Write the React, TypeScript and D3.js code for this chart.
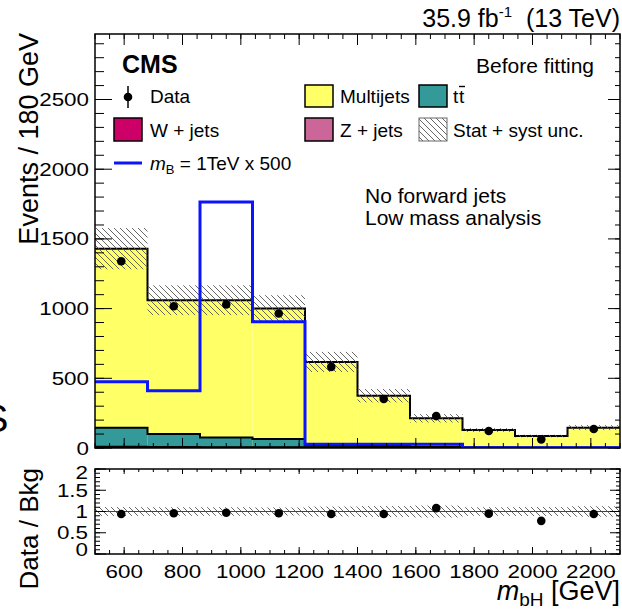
import React from "react";
import * as d3 from "d3";

// ---------- data ----------
const binEdges = [500, 680, 860, 1040, 1220, 1400, 1580, 1760, 1940, 2120, 2300];
const multijets = [1285, 960, 984, 937, 598, 361, 204, 123, 82, 142];
const ttbar = [136, 93, 70, 58, 15, 11, 6.5, 4.5, 2.5, 2.5];
const wjets = [6, 5, 4, 4, 3, 2, 1.5, 1, 1, 1];
const zjets = [3, 2, 2, 2, 1.5, 1, 1, 0.5, 0.5, 0.5];
const bkgUnc = [148, 107, 107, 95, 72, 48, 30, 13, 9, 18];
const dataValues = [1340, 1017, 1029, 965, 582, 351, 229, 122, 62, 136];
const signalValues = [475, 410, 1764, 905, 27, 27, 27, 1, 1, 1];
const ratioValues = [0.94, 0.96, 0.97, 0.96, 0.94, 0.94, 1.08, 0.95, 0.78, 0.94];
const xTickLabels = [600, 800, 1000, 1200, 1400, 1600, 1800, 2000, 2200];
const yTickLabels = [0, 500, 1000, 1500, 2000, 2500];
const ratioTickLabels = [0, 0.5, 1, 1.5, 2];

const FONT = "'Liberation Sans', Arial, Helvetica, sans-serif";

const W = 622;
const H = 614;
const L = 95;
const R = 620;
const mainTop = 34;
const mainBot = 448;
const ratTop = 469;
const ratBot = 554;

const COLORS = {
  multijets: "#ffff66",
  tt: "#339999",
  w: "#cc0066",
  z: "#cc6699",
  signal: "#0a14ff",
};

function Ticks({ scale, values, orient, pos, len, stroke = "#000" }) {
  return (
    <g stroke={stroke} strokeWidth={1}>
      {values.map((v, i) => {
        const p = scale(v);
        if (orient === "bottom") return <line key={i} x1={p} x2={p} y1={pos} y2={pos - len} />;
        if (orient === "top") return <line key={i} x1={p} x2={p} y1={pos} y2={pos + len} />;
        if (orient === "left") return <line key={i} y1={p} y2={p} x1={pos} x2={pos + len} />;
        return <line key={i} y1={p} y2={p} x1={pos} x2={pos - len} />;
      })}
    </g>
  );
}

export default function App() {
  const x = d3.scaleLinear().domain([500, 2300]).range([L, R]);
  const y = d3.scaleLinear().domain([0, 2970]).range([mainBot, mainTop]);
  const yr = d3.scaleLinear().domain([0, 2]).range([ratBot, ratTop]);

  const nb = multijets.length;
  const cumZ = zjets.map((v) => v);
  const cumW = zjets.map((v, i) => v + wjets[i]);
  const cumT = cumW.map((v, i) => v + ttbar[i]);
  const total = cumT.map((v, i) => v + multijets[i]);

  const layers = [
    { top: total, fill: COLORS.multijets },
    { top: cumT, fill: COLORS.tt },
    { top: cumW, fill: COLORS.w },
    { top: cumZ, fill: COLORS.z },
  ];

  const stepLine = (vals, ys) => {
    const pts = vals.map((v, i) => [x(binEdges[i]), ys(v)]);
    pts.push([x(binEdges[nb]), ys(vals[nb - 1])]);
    return d3.line().curve(d3.curveStepAfter)(pts);
  };

  const mid = (i) => (binEdges[i] + binEdges[i + 1]) / 2;

  const xMinor = d3.range(500, 2301, 50);
  const xMajor = d3.range(600, 2201, 200);
  const yMinor = d3.range(0, 2971, 100);
  const yMajor = d3.range(0, 2971, 500);
  const rMinor = d3.range(0, 2.001, 0.1);
  const rMajor = [0, 0.5, 1, 1.5, 2];

  const tickLabel = (txt, tx, ty, anchor, key) => (
    <text
      key={key}
      transform={`translate(${tx},${ty}) scale(1.28,1)`}
      textAnchor={anchor}
      fontSize={17.5}
      fontFamily={FONT}
      fill="#000"
    >
      {txt}
    </text>
  );

  return (
    <svg
      width={W}
      height={H}
      style={{ position: "absolute", left: 0, top: 0, background: "#fff" }}
      fontFamily={FONT}
    >
      <defs>
        <pattern id="hatch" patternUnits="userSpaceOnUse" width={6} height={6}>
          <path d="M-1,-1 L7,7 M-1,5 L1,7 M5,-1 L7,1" stroke="#555" strokeWidth={0.9} />
        </pattern>
        <clipPath id="mainClip">
          <rect x={L} y={mainTop} width={R - L} height={mainBot - mainTop} />
        </clipPath>
        <clipPath id="ratClip">
          <rect x={L} y={ratTop} width={R - L} height={ratBot - ratTop} />
        </clipPath>
      </defs>
      <rect x={0} y={0} width={W} height={H} fill="#fff" />

      {/* ---------- main panel ---------- */}
      <g clipPath="url(#mainClip)">
        {layers.map((ly, li) => (
          <g key={li}>
            {ly.top.map((v, i) => (
              <rect
                key={i}
                x={x(binEdges[i])}
                width={x(binEdges[i + 1]) - x(binEdges[i])}
                y={y(v)}
                height={y(0) - y(v)}
                fill={ly.fill}
              />
            ))}
            <path d={stepLine(ly.top, y)} fill="none" stroke="#000" strokeWidth={2} />
          </g>
        ))}
        {total.map((v, i) => (
          <rect
            key={i}
            x={x(binEdges[i])}
            width={x(binEdges[i + 1]) - x(binEdges[i])}
            y={y(v + bkgUnc[i])}
            height={y(v - bkgUnc[i]) - y(v + bkgUnc[i])}
            fill="url(#hatch)"
          />
        ))}
        <path d={stepLine(signalValues, y)} fill="none" stroke={COLORS.signal} strokeWidth={3} />
        {dataValues.map((v, i) => (
          <circle key={i} cx={x(mid(i))} cy={y(v)} r={4.3} fill="#000" />
        ))}
      </g>

      <Ticks scale={x} values={xMinor} orient="bottom" pos={mainBot} len={5} />
      <Ticks scale={x} values={xMajor} orient="bottom" pos={mainBot} len={10} />
      <Ticks scale={x} values={xMinor} orient="top" pos={mainTop} len={5} />
      <Ticks scale={x} values={xMajor} orient="top" pos={mainTop} len={11} />
      <Ticks scale={y} values={yMinor} orient="left" pos={L} len={9} />
      <Ticks scale={y} values={yMajor} orient="left" pos={L} len={17} />
      <Ticks scale={y} values={yMinor} orient="right" pos={R} len={5} />
      <Ticks scale={y} values={yMajor} orient="right" pos={R} len={12} />
      <rect x={L} y={mainTop} width={R - L} height={mainBot - mainTop} fill="none" stroke="#000" strokeWidth={1.5} />

      {yTickLabels.map((v, i) => tickLabel(String(v), 89, y(v) + 6.5, "end", "yl" + i))}

      {/* ---------- ratio panel ---------- */}
      <g clipPath="url(#ratClip)">
        {total.map((v, i) => {
          const rel = bkgUnc[i] / v;
          return (
            <rect
              key={i}
              x={x(binEdges[i])}
              width={x(binEdges[i + 1]) - x(binEdges[i])}
              y={yr(1 + rel)}
              height={yr(1 - rel) - yr(1 + rel)}
              fill="url(#hatch)"
            />
          );
        })}
        <line x1={L} x2={R} y1={yr(1)} y2={yr(1)} stroke="#444" strokeWidth={1} />
        {ratioValues.map((v, i) => (
          <circle key={i} cx={x(mid(i))} cy={yr(v)} r={4.3} fill="#000" />
        ))}
      </g>
      <Ticks scale={x} values={xMinor} orient="bottom" pos={ratBot} len={4} />
      <Ticks scale={x} values={xMajor} orient="bottom" pos={ratBot} len={7} />
      <Ticks scale={x} values={xMinor} orient="top" pos={ratTop} len={3} />
      <Ticks scale={x} values={xMajor} orient="top" pos={ratTop} len={5} />
      <Ticks scale={yr} values={rMinor} orient="left" pos={L} len={5} />
      <Ticks scale={yr} values={rMajor} orient="left" pos={L} len={11} />
      <Ticks scale={yr} values={rMinor} orient="right" pos={R} len={4} />
      <Ticks scale={yr} values={rMajor} orient="right" pos={R} len={10} />
      <rect x={L} y={ratTop} width={R - L} height={ratBot - ratTop} fill="none" stroke="#000" strokeWidth={1.5} />

      {ratioTickLabels.map((v, i) =>
        tickLabel(String(v), 88, Math.min(yr(v) + 6.5, ratBot + 2) + (v === 2 ? 3 : 0), "end", "rl" + i)
      )}
      {xTickLabels.map((v, i) => tickLabel(String(v), x(v), 578, "middle", "xl" + i))}

      {/* ---------- axis titles ---------- */}
      <text transform="translate(38,33) rotate(-90)" textAnchor="end" fontSize={27}>
        Events / 180 GeV
      </text>
      <text transform="translate(38,468) rotate(-90)" textAnchor="end" fontSize={26}>
        Data / Bkg
      </text>
      <text x={R} y={600} textAnchor="end" fontSize={27}>
        <tspan fontStyle="italic">m</tspan>
        <tspan fontSize={19} dy={6}>bH</tspan>
        <tspan dy={-6}>{"\u00a0[GeV]"}</tspan>
      </text>
      <text x={-17} y={432} fontSize={38}>S</text>

      {/* ---------- header ---------- */}
      <text x={R} y={27} textAnchor="end" fontSize={25}>
        35.9 fb<tspan fontSize={15} dy={-10}>-1</tspan>
        <tspan dy={10}>{"\u00a0\u00a0(13 TeV)"}</tspan>
      </text>
      <text x={122} y={73} fontSize={25} fontWeight="bold">CMS</text>
      <text x={594} y={73} textAnchor="end" fontSize={21}>Before fitting</text>

      {/* ---------- legend ---------- */}
      <g fontSize={19}>
        <line x1={128} x2={128} y1={86} y2={108} stroke="#000" strokeWidth={1.5} />
        <circle cx={128} cy={97} r={4.3} fill="#000" />
        <text x={150} y={103}>Data</text>
        <rect x={305} y={85} width={28} height={22} fill={COLORS.multijets} stroke="#000" strokeWidth={1.5} />
        <text x={340} y={103}>Multijets</text>
        <rect x={419} y={85} width={28} height={22} fill={COLORS.tt} stroke="#000" strokeWidth={1.5} />
        <text x={453} y={103}>t</text>
        <text x={459} y={103}>t</text>
        <line x1={459} x2={465} y1={86.5} y2={86.5} stroke="#000" strokeWidth={1.4} />
        <rect x={114} y={118} width={28} height={23} fill={COLORS.w} stroke="#000" strokeWidth={1.5} />
        <text x={150} y={137}>W + jets</text>
        <rect x={305} y={118} width={28} height={23} fill={COLORS.z} stroke="#000" strokeWidth={1.5} />
        <text x={340} y={137}>Z + jets</text>
        <rect x={419} y={118} width={28} height={23} fill="url(#hatch)" stroke="#666" strokeWidth={1} />
        <text x={453} y={137}>Stat + syst unc.</text>
        <line x1={114} x2={142} y1={163} y2={163} stroke={COLORS.signal} strokeWidth={3} />
        <text x={150} y={170}>
          <tspan fontStyle="italic">m</tspan>
          <tspan fontSize={13} dy={4}>B</tspan>
          <tspan dy={-4}> = 1TeV x 500</tspan>
        </text>
      </g>

      <text x={365} y={203} fontSize={21}>No forward jets</text>
      <text x={365} y={225} fontSize={21}>Low mass analysis</text>
    </svg>
  );
}
